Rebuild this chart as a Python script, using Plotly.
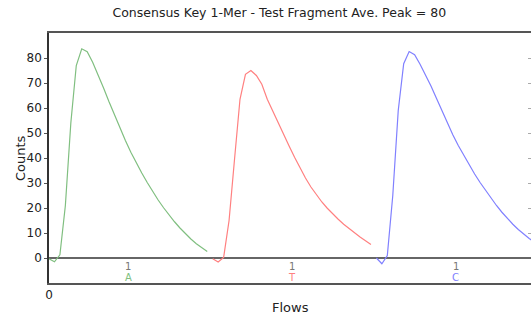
import plotly.graph_objects as go

# Flow-signal samples per nucleotide (30 samples each)
nucleotides = ["A", "T", "C"]
mer_labels = ["1", "1", "1"]
colors = ["rgb(128,191,128)", "rgb(255,128,128)", "rgb(128,128,255)"]

A_vals = [-0.3, -1.5, 1.3, 21.0, 54.0, 77.0, 83.7, 82.5, 78.3, 73.5,
          68.0, 62.5, 57.2, 52.0, 47.0, 42.3, 38.0, 34.0, 30.2, 26.6,
          23.2, 20.1, 17.2, 14.5, 12.0, 9.7, 7.6, 5.7, 4.0, 2.6]
T_vals = [-0.3, -1.6, 0.2, 15.0, 39.5, 63.5, 73.5, 75.0, 73.0, 69.5,
          63.5, 58.7, 54.0, 49.4, 44.8, 40.3, 36.0, 32.0, 28.4, 25.2,
          22.4, 19.9, 17.6, 15.5, 13.5, 11.7, 10.0, 8.4, 6.9, 5.4]
C_vals = [0.0, -2.3, 1.0, 25.0, 59.0, 77.7, 82.6, 81.3, 77.5, 73.3,
          68.8, 63.9, 58.9, 53.9, 49.3, 45.0, 41.0, 37.2, 33.6, 30.2,
          27.0, 23.9, 21.0, 18.3, 15.8, 13.5, 11.4, 9.5, 7.8, 6.3]
series = [A_vals, T_vals, C_vals]

y_ticks = [0, 10, 20, 30, 40, 50, 60, 70, 80]
x_ticks = [0]

fig = go.Figure()
n = len(A_vals)
for i, vals in enumerate(series):
    xs = [i * n + j for j in range(len(vals))]
    fig.add_trace(go.Scatter(x=xs, y=vals, mode="lines",
                             line=dict(color=colors[i], width=1.2),
                             showlegend=False, hoverinfo="skip"))
    center = i * n + (n - 1) / 2
    fig.add_annotation(x=center, y=-3.2, text=mer_labels[i], showarrow=False,
                       font=dict(size=10, color="#777777", family="DejaVu Sans"))
    fig.add_annotation(x=center, y=-7.9, text=nucleotides[i], showarrow=False,
                       font=dict(size=10, color=colors[i], family="DejaVu Sans"))

# axis titles
fig.add_annotation(xref="paper", yref="paper", x=0.5, y=0.0, yshift=-24,
                   text="Flows", showarrow=False, yanchor="middle",
                   font=dict(size=13, color="#222222"))
fig.add_annotation(xref="paper", yref="paper", x=0, xshift=-29, y=0.5,
                   text="Counts", showarrow=False, textangle=-90,
                   xanchor="center", font=dict(size=13, color="#222222"))

# dummy trace for right-side tick axis
fig.add_trace(go.Scatter(x=[None], y=[None], yaxis="y2", showlegend=False))

fig.update_layout(
    width=531, height=318,
    margin=dict(l=49, r=0, t=33, b=34.5, autoexpand=False),
    paper_bgcolor="white", plot_bgcolor="white",
    font=dict(family="DejaVu Sans", size=12, color="#222222"),
    title=dict(text="Consensus Key 1-Mer - Test Fragment Ave. Peak = 80",
               x=0.526, xanchor="center", y=0.96, yanchor="middle",
               font=dict(size=12.5, color="#222222")),
    xaxis=dict(range=[0, 88.33], tickvals=x_ticks, showgrid=False,
               zeroline=False, showline=True, mirror=True,
               linecolor="#555555", linewidth=2, ticks="", automargin=False,
               tickfont=dict(size=12)),
    yaxis=dict(range=[-10, 90], tickvals=y_ticks, showgrid=False,
               zeroline=True, zerolinecolor="#666666", zerolinewidth=2,
               showline=True, linecolor="#333333", linewidth=1.5,
               ticks="outside", ticklen=3, tickcolor="#555555",
               automargin=False, tickfont=dict(size=12)),
    yaxis2=dict(range=[-10, 90], overlaying="y", side="right",
                anchor="free", position=1, tickvals=y_ticks[1:],
                ticks="inside", ticklen=3, tickcolor="#aaaaaa",
                showticklabels=False, showline=False, showgrid=False,
                zeroline=False, automargin=False),
)

fig.write_html(
    "out.html",
    config={"displayModeBar": False},
    post_script="document.body.style.margin='0px';"
                "document.body.style.overflow='hidden';",
)
